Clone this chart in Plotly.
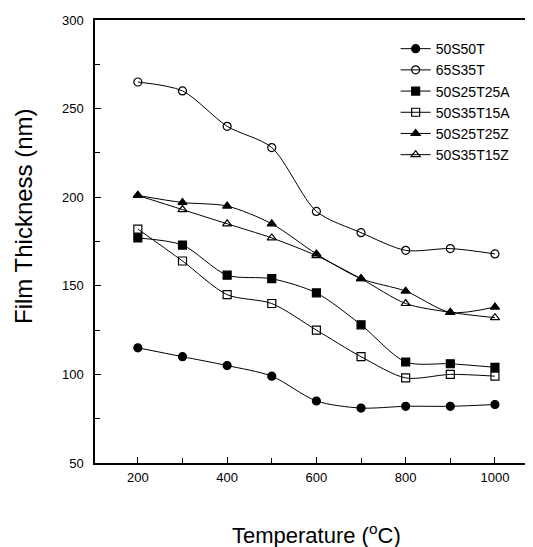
import plotly.graph_objects as go

temps = [200, 300, 400, 500, 600, 700, 800, 900, 1000]
s50S50T = [115, 110, 105, 99, 85, 81, 82, 82, 83]
s65S35T = [265, 260, 240, 228, 192, 180, 170, 171, 168]
s50S25T25A = [177, 173, 156, 154, 146, 128, 107, 106, 104]
s50S35T15A = [182, 164, 145, 140, 125, 110, 98, 100, 99]
s50S25T25Z = [201, 197, 195, 185, 168, 154, 147, 135, 138]
s50S35T15Z = [201, 193, 185, 177, 167, 154, 140, 135, 132]

names = ["50S50T", "65S35T", "50S25T25A", "50S35T15A", "50S25T25Z", "50S35T15Z"]
series = [s50S50T, s65S35T, s50S25T25A, s50S35T15A, s50S25T25Z, s50S35T15Z]
symbols = ["circle", "circle-open", "square", "square-open", "triangle-up", "triangle-up-open"]

x_title = "Temperature (<sup>o</sup>C)"
y_title = "Film Thickness (nm)"

fig = go.Figure()
for n, s, sym in zip(names, series, symbols):
    fig.add_trace(go.Scatter(
        x=temps, y=s, name=n, mode="lines+markers",
        line=dict(color="black", width=1, shape="spline", smoothing=0.8),
        marker=dict(symbol=sym, size=8, color="black",
                    line=dict(color="black", width=1.2)),
    ))

font = "Liberation Sans, Arial, sans-serif"
# page has an 8px body margin, so the figure is sized to fit the 533x547 window
fig.update_layout(
    width=525, height=539,
    margin=dict(l=87, r=1, t=12, b=84),
    paper_bgcolor="white", plot_bgcolor="white",
    font=dict(family=font, color="black", size=13),
    showlegend=True,
    legend=dict(x=0.688, y=0.9705, xanchor="left", yanchor="top",
                bgcolor="rgba(0,0,0,0)", font=dict(size=14, family=font),
                itemwidth=30),
    xaxis=dict(
        range=[104, 1083], tickvals=[200, 400, 600, 800, 1000],
        ticks="inside", ticklen=6, tickcolor="black",
        minor=dict(dtick=100, tick0=0, ticks="inside", ticklen=5, tickcolor="black"),
        showline=True, linecolor="black", linewidth=1.5, mirror=True,
        showgrid=False, zeroline=False, automargin=False,
        tickfont=dict(size=13), ticklabelstandoff=2,
    ),
    yaxis=dict(
        range=[50, 300], tickvals=[50, 100, 150, 200, 250, 300],
        ticks="inside", ticklen=6, tickcolor="black",
        minor=dict(dtick=25, tick0=0, ticks="inside", ticklen=5, tickcolor="black"),
        showline=True, linecolor="black", linewidth=1.5, mirror=False,
        showgrid=False, zeroline=False, automargin=False,
        tickfont=dict(size=13), ticklabelstandoff=7,
    ),
    annotations=[
        dict(text=x_title, xref="paper", yref="paper", x=0.508, y=-0.160,
             xanchor="center", yanchor="middle", showarrow=False,
             font=dict(size=22, family=font)),
        dict(text=y_title, xref="paper", yref="paper", x=-0.1625, y=0.5576,
             xanchor="center", yanchor="middle", showarrow=False, textangle=-90,
             font=dict(size=24, family=font)),
    ],
)
fig.write_html("out.html")
